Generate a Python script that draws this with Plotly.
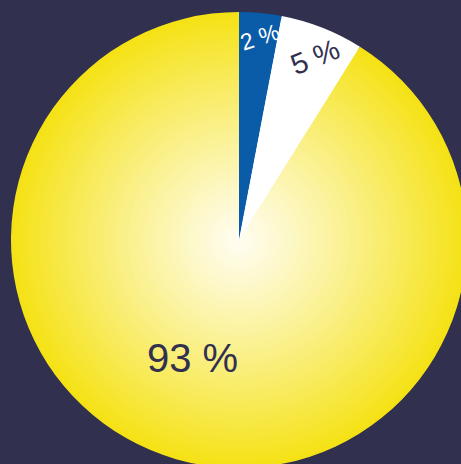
import plotly.graph_objects as go
import math

# ---- data ----
categories = ["Bleu", "Blanc", "Jaune"]
slice_values = [3.0, 5.9, 91.1]          # angular share
slice_labels = ["2 %", "5 %", "93 %"]    # printed labels

# ---- style ----
BG = "#32304f"
BLUE = "#0a5ca8"
WHITE = "#ffffff"
CENTER_RGB = (255, 253, 242)
EDGE_RGB = (245, 226, 22)
TEXT_DARK = "#32304f"
label_colors = ["#ffffff", TEXT_DARK, TEXT_DARK]
label_sizes = [23, 29, 40]
label_radius = [0.895, 0.87, 0.555]
label_angle_offset = [0.5, 1.0, 5.5]
label_rot = [-18, -22, 0]

W, H = 478, 480
CX, CY, R = 239, 240, 228
N = 70

def mix(t):
    t = max(0.0, min(1.0, t)) ** 1.1
    c = [round(a + (b - a) * t) for a, b in zip(CENTER_RGB, EDGE_RGB)]
    return "rgb(%d,%d,%d)" % tuple(c)

fig = go.Figure()
for i in range(N):
    r = R * (N - i) / N
    fig.add_trace(go.Pie(
        labels=categories, values=slice_values, sort=False,
        direction="clockwise", rotation=0,
        marker=dict(colors=[BLUE, WHITE, mix(r / R)], line=dict(width=0)),
        textinfo="none", hoverinfo="skip",
        domain=dict(x=[(CX - r) / W, (CX + r) / W],
                    y=[1 - (CY + r) / H, 1 - (CY - r) / H]),
        showlegend=False,
    ))

total = sum(slice_values)
cum = 0.0
for k, v in enumerate(slice_values):
    mid = (cum + v / 2) / total * 360 + label_angle_offset[k]
    cum += v
    th = math.radians(mid)
    rr = R * label_radius[k]
    px = CX + rr * math.sin(th)
    py = CY - rr * math.cos(th)
    fig.add_annotation(
        x=px / W, y=1 - py / H, xref="paper", yref="paper",
        text=slice_labels[k], showarrow=False, textangle=label_rot[k],
        font=dict(family="Liberation Sans, Arial, sans-serif",
                  size=label_sizes[k], color=label_colors[k]),
        xanchor="center", yanchor="middle",
    )

fig.update_layout(
    width=W, height=H,
    margin=dict(l=0, r=0, t=0, b=0),
    paper_bgcolor=BG, plot_bgcolor=BG,
    showlegend=False,
)

fig.write_html("out.html",
               post_script="document.body.style.overflow='hidden';"
                           "document.documentElement.style.overflow='hidden';")
